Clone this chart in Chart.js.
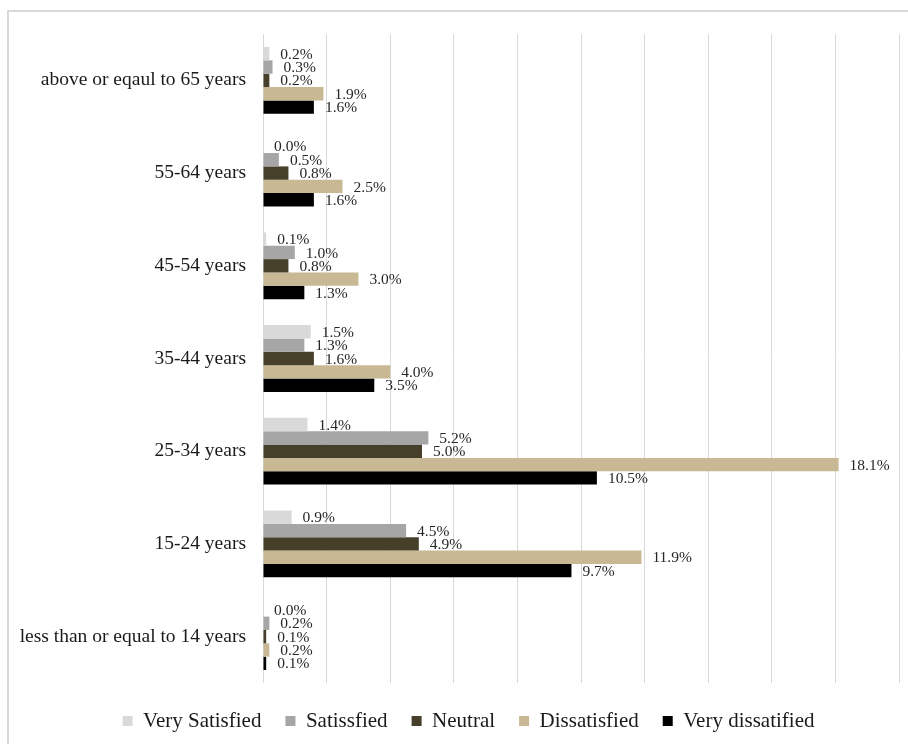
<!DOCTYPE html>
<html>
<head>
<meta charset="utf-8">
<script src="https://cdn.jsdelivr.net/npm/chart.js@4/dist/chart.umd.min.js"></script>
<style>
  html, body { margin: 0; padding: 0; background: #fff; overflow: hidden; }
  #wrap { position: relative; width: 908px; height: 744px; }
  #frame { position: absolute; left: 7px; top: 10px; right: -10px; bottom: -10px;
           border-top: 2px solid #d9d9d9; border-left: 2px solid #d9d9d9; }
  #satisfaction { position: absolute; left: 0; top: 0; }
</style>
</head>
<body>
<div id="wrap">
  <div id="frame"></div>
  <canvas id="satisfaction" width="908" height="744"></canvas>
</div>
<script>
// age groups, top to bottom
var ageGroups = [
  'above or eqaul to 65 years',
  '55-64 years',
  '45-54 years',
  '35-44 years',
  '25-34 years',
  '15-24 years',
  'less than or equal to 14 years'
];

// share of respondents, in %
var verySatisfied    = [0.2, 0.0, 0.1, 1.5, 1.4, 0.9, 0.0];
var satisfied        = [0.3, 0.5, 1.0, 1.3, 5.2, 4.5, 0.2];
var neutral          = [0.2, 0.8, 0.8, 1.6, 5.0, 4.9, 0.1];
var dissatisfied     = [1.9, 2.5, 3.0, 4.0, 18.1, 11.9, 0.2];
var veryDissatisfied = [1.6, 1.6, 1.3, 3.5, 10.5, 9.7, 0.1];

var seriesNames = ['Very Satisfied', 'Satissfied', 'Neutral', 'Dissatisfied', 'Very dissatified'];
var seriesColors = ['#d9d9d9', '#a6a6a6', '#463f29', '#c8b894', '#000000'];

var SERIF = '"Liberation Serif", "Times New Roman", serif';

// percent labels just past the end of each bar
var valueLabels = {
  id: 'valueLabels',
  afterDatasetsDraw: function(chart) {
    var ctx = chart.ctx;
    ctx.save();
    ctx.font = '15.5px ' + SERIF;
    ctx.fillStyle = '#262626';
    ctx.textAlign = 'left';
    ctx.textBaseline = 'middle';
    chart.data.datasets.forEach(function(ds, i) {
      chart.getDatasetMeta(i).data.forEach(function(bar, j) {
        ctx.fillText(ds.data[j].toFixed(1) + '%', bar.x + 11, bar.y + 1);
      });
    });
    ctx.restore();
  }
};

// legend sits a bit right of the canvas centre
var legendShift = {
  id: 'legendShift',
  afterLayout: function(chart) {
    if (chart.legend) {
      chart.legend.left += 19;
      chart.legend.right += 19;
    }
  }
};

var allSeries = [verySatisfied, satisfied, neutral, dissatisfied, veryDissatisfied];
var datasets = allSeries.map(function(values, i) {
  return {
    label: seriesNames[i],
    data: values,
    backgroundColor: seriesColors[i],
    borderWidth: 0,
    categoryPercentage: 0.72,
    barPercentage: 1.0
  };
});

var ctx = document.getElementById('satisfaction').getContext('2d');
new Chart(ctx, {
  type: 'bar',
  data: { labels: ageGroups, datasets: datasets },
  plugins: [valueLabels, legendShift],
  options: {
    indexAxis: 'y',
    responsive: false,
    animation: false,
    layout: { padding: { top: 34, left: 0, right: 9, bottom: 2.5 } },
    scales: {
      x: {
        min: 0,
        max: 20,
        ticks: { display: false, stepSize: 2 },
        grid: { color: '#d9d9d9', lineWidth: 1, drawTicks: false },
        border: { display: false },
        afterFit: function(scale) { scale.height = 3.5; }
      },
      y: {
        grid: { display: false, drawTicks: false },
        border: { display: false },
        ticks: {
          padding: 17,
          color: '#1a1a1a',
          font: { family: SERIF, size: 19.5 }
        },
        afterFit: function(scale) { scale.width = 263; }
      }
    },
    plugins: {
      tooltip: { enabled: false },
      legend: {
        position: 'bottom',
        labels: {
          boxWidth: 10,
          boxHeight: 10,
          padding: 24,
          color: '#1a1a1a',
          font: { family: SERIF, size: 21 }
        }
      }
    }
  }
});
</script>
</body>
</html>
